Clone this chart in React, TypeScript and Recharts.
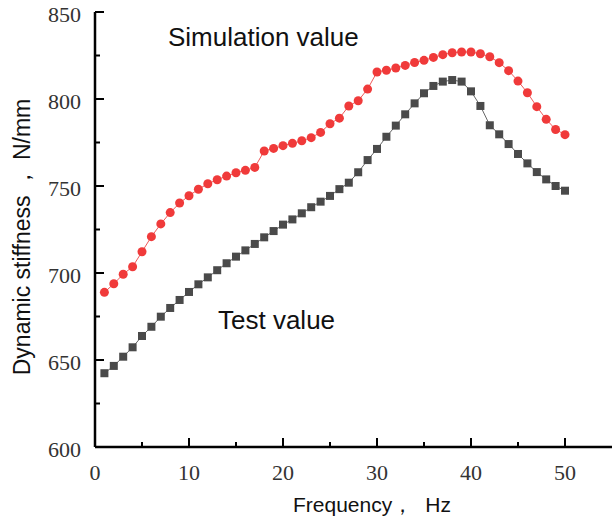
import React from "react";
import { LineChart, Line, XAxis, YAxis } from "recharts";

// frequency points (Hz)
const freq = [
  1, 2, 3, 4, 5, 6, 7, 8, 9, 10, 11, 12, 13, 14, 15, 16, 17, 18, 19, 20, 21, 22, 23, 24, 25,
  26, 27, 28, 29, 30, 31, 32, 33, 34, 35, 36, 37, 38, 39, 40, 41, 42, 43, 44, 45, 46, 47, 48, 49, 50,
];

// dynamic stiffness, N/mm
const simulation = [
  688.9, 693.8, 699.3, 703.6, 712.2, 720.9, 728.2, 734.7, 740.2, 744.4, 748.1, 751.3, 753.6, 755.7,
  757.6, 759.0, 760.7, 770.1, 771.6, 773.2, 774.5, 776.0, 777.8, 780.8, 785.8, 789.0, 796.0, 799.0,
  805.7, 815.5, 816.5, 817.8, 819.3, 821.0, 822.2, 823.9, 825.5, 826.6, 827.0, 827.0, 826.0, 824.3,
  820.9, 816.3, 810.3, 803.6, 795.6, 788.3, 782.5, 779.5,
];

const test = [
  642.4, 646.6, 651.9, 657.3, 663.8, 669.1, 674.9, 679.9, 684.5, 689.1, 693.5, 697.5, 701.6, 705.6,
  709.4, 713.0, 716.7, 720.5, 724.1, 727.8, 730.8, 734.3, 737.8, 741.0, 744.3, 748.2, 751.9, 757.9,
  764.9, 771.3, 778.3, 784.7, 791.2, 797.5, 803.3, 807.5, 810.0, 810.9, 810.0, 804.4, 796.0, 784.9,
  779.7, 774.1, 768.4, 763.0, 758.0, 753.8, 750.0, 747.3,
];

const xTicks = [0, 5, 10, 15, 20, 25, 30, 35, 40, 45, 50];
const yTicks = [600, 625, 650, 675, 700, 725, 750, 775, 800, 825, 850];

const data = freq.map((f, i) => ({ f, sim: simulation[i], test: test[i] }));

const SERIF = "'Liberation Serif', 'DejaVu Serif', serif";
const SANS = "'Liberation Sans', Arial, sans-serif";

// ticks point inward; only the major ones get a label
const XTick = (props: any) => {
  const { x, y, payload } = props;
  const major = payload.value % 10 === 0;
  return (
    <g>
      <line x1={x} x2={x} y1={y} y2={y - (major ? 9 : 5)} stroke="#000" strokeWidth={2} />
      {major && (
        <text x={x} y={y + 25} textAnchor="middle" dominantBaseline="central" fontFamily={SERIF} fontSize={22} fill="#333">
          {payload.value}
        </text>
      )}
    </g>
  );
};

const YTick = (props: any) => {
  const { x, y, payload } = props;
  const major = payload.value % 50 === 0;
  return (
    <g>
      <line x1={x} x2={x + (major ? 9 : 5)} y1={y} y2={y} stroke="#000" strokeWidth={2} />
      {major && (
        <text x={x - 14} y={y + 2} textAnchor="end" dominantBaseline="central" fontFamily={SERIF} fontSize={22} fill="#333">
          {payload.value}
        </text>
      )}
    </g>
  );
};

const RedDot = (props: any) => {
  const { cx, cy, index } = props;
  return <circle key={index} cx={cx} cy={cy} r={4.5} fill="#f03a3a" />;
};

const SquareDot = (props: any) => {
  const { cx, cy, index } = props;
  return <rect key={index} x={cx - 4} y={cy - 4} width={8} height={8} fill="#4a4a4a" />;
};

const label: React.CSSProperties = {
  position: "absolute",
  fontFamily: SANS,
  color: "#111",
  whiteSpace: "nowrap",
  lineHeight: 1,
};

export default function App() {
  return (
    <div style={{ position: "absolute", left: 0, top: 0, width: 612, height: 524, background: "#fff" }}>
      <LineChart width={612} height={524} data={data} margin={{ top: 12, right: 0, bottom: 0, left: 0 }}>
        <XAxis
          dataKey="f"
          type="number"
          domain={[0, 55]}
          ticks={xTicks}
          interval={0}
          height={77}
          tickSize={0}
          tickMargin={0}
          tickLine={false}
          axisLine={{ stroke: "#000", strokeWidth: 2.5 }}
          tick={<XTick />}
        />
        <YAxis
          type="number"
          domain={[600, 850]}
          ticks={yTicks}
          interval={0}
          width={95}
          tickSize={0}
          tickMargin={0}
          tickLine={false}
          axisLine={{ stroke: "#000", strokeWidth: 2.5 }}
          tick={<YTick />}
        />
        <Line dataKey="sim" stroke="#f05a5a" strokeWidth={1} dot={<RedDot />} isAnimationActive={false} />
        <Line dataKey="test" stroke="#666" strokeWidth={1} dot={<SquareDot />} isAnimationActive={false} />
      </LineChart>
      <div style={{ ...label, left: 168, top: 24, fontSize: 26 }}>Simulation value</div>
      <div style={{ ...label, left: 218, top: 307, fontSize: 26 }}>Test value</div>
      <div style={{ ...label, left: 293, top: 494, fontSize: 21 }}>
        Frequency，<span style={{ marginLeft: 12 }}>Hz</span>
      </div>
      <div
        style={{
          ...label,
          left: 22,
          top: 237,
          fontSize: 23,
          transform: "translate(-50%, -50%) rotate(-90deg)",
        }}
      >
        Dynamic stiffness ，<span style={{ marginLeft: 6 }}>N/mm</span>
      </div>
    </div>
  );
}
